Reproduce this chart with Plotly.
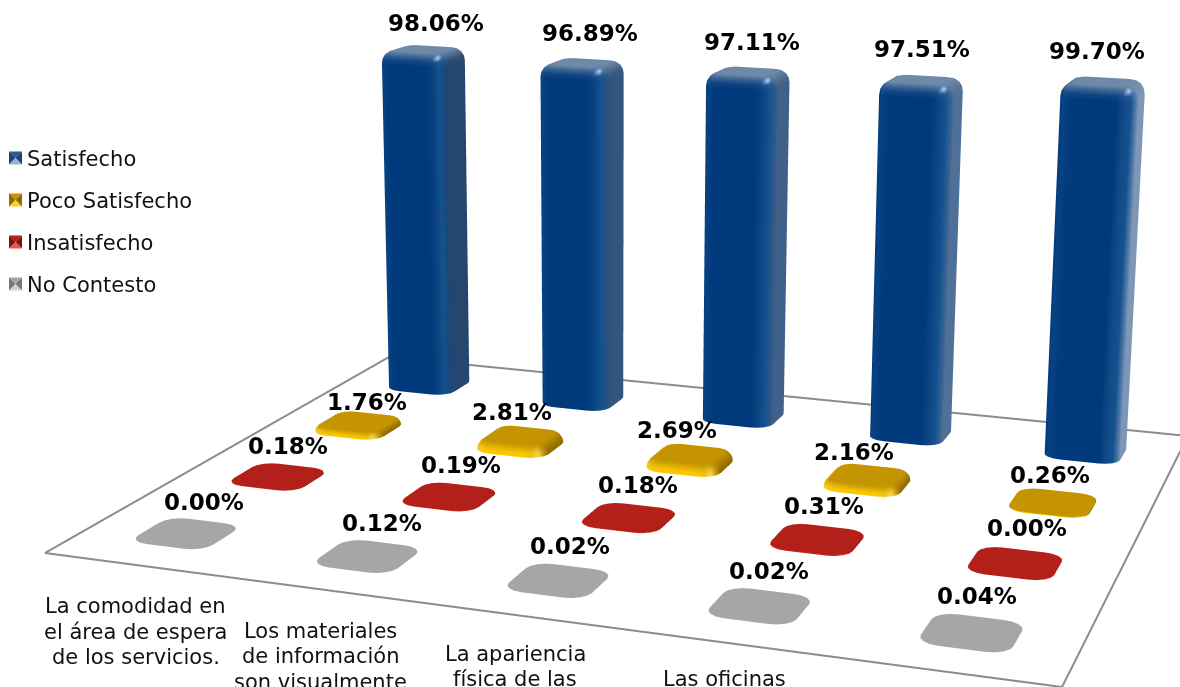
import numpy as np
import plotly.graph_objects as go

category_lines = [["La comodidad en", "el área de espera", "de los servicios."],
                  ["Los materiales", "de información", "son visualmente"],
                  ["La apariencia", "física de las"],
                  ["Las oficinas"],
                  []]
series_names = ["No Contesto", "Insatisfecho", "Poco Satisfecho", "Satisfecho"]
no_contesto = [0.00, 0.12, 0.02, 0.02, 0.04]
insatisfecho = [0.18, 0.19, 0.18, 0.31, 0.00]
poco = [1.76, 2.81, 2.69, 2.16, 0.26]
satisfecho = [98.06, 96.89, 97.11, 97.51, 99.70]
series_values = [no_contesto, insatisfecho, poco, satisfecho]

STY = {
    "No Contesto": dict(front="#a0a0a0", side="#989898", top="#a6a6a6", hi="#b0b0b0", spec=None,
                        sw=("#a6a6a6", "#777777", "#d0d0d0")),
    "Insatisfecho": dict(front="#d8261c", side="#8e1a14", top="#b3201a", hi="#e05048", spec=None,
                         sw=("#b3201a", "#7a1510", "#f05050")),
    "Poco Satisfecho": dict(front="#ffcc00", side="#8f6b00", top="#c49500", hi="#ffdb50", spec=None,
                            sw=("#c49500", "#8a6a00", "#ffcc22")),
    "Satisfecho": dict(front="#003a7d", side="#25466e", top="#6f8aa8", hi="#14528f", spec="#a8d4ff",
                       sw=("#2a5a94", "#1d4377", "#8fb2d6")),
}
BLUE_SIDE = ["#25466e", "#33567c", "#3f6088", "#4f7098", "#7e97b8"]
FIG_W = 1330
FIG_H = 3500   # tall page: sets the focal length; only the top-left 1180x687 px are in the window
FLOOR_PX = np.array([[45, 553], [1062, 687], [1188, 436], [389, 357]], float)  # calibration of the view
BAR_PX_CAL = 335.0   # projected height of the 98.06 bar, first category
BAR_W, BAR_D = 0.42, 0.42  # fraction of a cell
TAN = np.tan(np.pi / 8)
# label nudges in pixels, indexed [series][category]
LABEL_DX = [[18, 15, 12, 10, 5], [10, 12, 9, 7, 12], [9, -8, -13, -13, -3], [13, 8, 4, 0, -6]]
LABEL_DY = [[31, 33, 34, 35, 37], [30, 31, 32, 33, 35], [20, 23, 24, 23, 27], [26, 29, 29, 30, 30]]
CAT_DX = [28, 23, 17, 15]
CAT_DY = [-11, -10, -6, -3]
LEGEND_Y = [158, 200, 242, 284]


def homography():
    A, B, C, D = FLOOR_PX
    d1, d2, s = B - C, D - C, A - B + C - D
    det = d1[0] * d2[1] - d2[0] * d1[1]
    g = (s[0] * d2[1] - d2[0] * s[1]) / det
    h = (d1[0] * s[1] - s[0] * d1[1]) / det
    return np.array([[B[0] - A[0] + g * B[0], D[0] - A[0] + h * D[0], A[0]],
                     [B[1] - A[1] + g * B[1], D[1] - A[1] + h * D[1], A[1]],
                     [g, h, 1.0]])


f = FIG_H / 2 / TAN
Kinv = np.array([[1 / f, 0, -FIG_W / 2 / f], [0, 1 / f, -FIG_H / 2 / f], [0, 0, 1]])
M = Kinv @ homography()
lam = np.linalg.norm(M[:, 0])
W = 1.0
r1 = M[:, 0] / lam
a_ = M[:, 1] @ r1
h2p = M[:, 1] - a_ * r1
r2 = h2p / np.linalg.norm(h2p)
D = np.linalg.norm(h2p) / lam
SHEAR = a_ / lam          # world X per unit of floor depth
r3 = np.cross(r1, r2)
t = M[:, 2] / lam
R = np.column_stack([r1, r2, r3])
cam = -R.T @ t


def project(p):
    c = R @ p + t
    return np.array([f * c[0] / c[2] + FIG_W / 2, f * c[1] / c[2] + FIG_H / 2])


def heightpx(zw):
    base = np.array([W * 0.1 + SHEAR * 0.875, D * 0.875, 0.0])
    top = base + np.array([0, 0, zw])
    return np.linalg.norm(project(base) - project(top))


zl, zh = 0.01, 3.0
for _ in range(50):
    zm = (zl + zh) / 2
    if heightpx(zm) > BAR_PX_CAL:
        zh = zm
    else:
        zl = zm
PCT_SCALE = zl / 98.06

sx, sy, sz = W / 5, D / 4, PCT_SCALE
SK = SHEAR / (4 * sx)   # data x shift per unit of series position


def xs(cat, ser):
    return cat + SK * ser


xvals = [xs(0, 0), xs(5, 0), xs(5, 4), xs(0, 4)]
X_RANGE = [min(xvals) - 0.05, max(xvals) + 0.05]
Y_RANGE = [-0.5, 4.02]
Z_RANGE = [-1.0, 125.0]
aspect = dict(x=(X_RANGE[1] - X_RANGE[0]) * sx, y=(Y_RANGE[1] - Y_RANGE[0]) * sy, z=(Z_RANGE[1] - Z_RANGE[0]) * sz)
box_c = np.array([sum(X_RANGE) / 2 * sx, sum(Y_RANGE) / 2 * sy, sum(Z_RANGE) / 2 * sz])
eye = cam - box_c
fwd = R.T @ np.array([0, 0, 1.0])
up = -R.T @ np.array([0, 1.0, 0])
center = eye + fwd * 1.0


def hexrgb(c):
    return np.array([int(c[k:k + 2], 16) for k in (1, 3, 5)], float)


def css(v):
    v = np.clip(v, 0, 255)
    return f"rgb({int(v[0])},{int(v[1])},{int(v[2])})"


def shade(nx, ny, st, side):
    fw, rw, lw, bw = max(0, -ny), max(0, nx), max(0, -nx), max(0, ny)
    front, sd, hi_c = hexrgb(st["front"]), hexrgb(side), hexrgb(st["hi"])
    den = fw ** 2 + rw ** 2 + lw ** 2 + bw ** 2
    c = (front * (fw ** 2 + lw ** 2) + sd * (rw ** 2 + bw ** 2)) / den
    k = (2 * fw * rw) ** 4
    k2 = 0.4 * (2 * fw * lw) ** 4
    return c * (1 - max(k, k2)) + hi_c * max(k, k2)


def add_bar(m, cat, ser, val, st, side):
    h = max(val, 0.02)
    cu, cv = cat + 0.5, ser + 0.5
    hw, hd = BAR_W / 2, BAR_D / 2
    crx, cry = 0.25 * BAR_W, 0.25 * BAR_D
    bev = 3.5
    rad = 0.07
    b = min(bev, h)
    r_now = rad * b / bev
    angs = []
    for q, (ccx, ccy) in enumerate([(-1, -1), (1, -1), (1, 1), (-1, 1)]):
        for a in np.linspace(np.pi + q * np.pi / 2, np.pi * 1.5 + q * np.pi / 2, 5):
            angs.append((ccx, ccy, a))
    n = len(angs)
    profile = [(0.0, 0.0, 0.0), (h - b, 0.0, 0.0)]
    for th in np.radians([22.5, 45, 67.5, 90]):
        profile.append((h - b + b * np.sin(th), r_now * (1 - np.cos(th)), th))

    def push(px, py, pz, col):
        m["x"].append(px); m["y"].append(py); m["z"].append(pz); m["c"].append(css(col))
        return len(m["x"]) - 1

    idx = []
    for z, inset, th in profile:
        row = []
        tmix = np.sin(th) ** 2
        for ccx, ccy, a in angs:
            nx, ny = np.cos(a), np.sin(a)
            pu = cu + ccx * (hw - crx) + (crx - inset) * nx
            pv = cv + ccy * (hd - cry) + (cry - inset) * ny
            col = shade(nx, ny, st, side) * (1 - tmix) + hexrgb(st["top"]) * tmix
            if st["spec"] and abs(th - np.pi / 4) < 1e-6:
                k = (2 * max(0, -ny) * max(0, nx)) ** 30
                col = col * (1 - k) + hexrgb(st["spec"]) * k
            row.append(push(xs(pu, pv), pv, z, col))
        idx.append(row)
    for rn in range(len(profile) - 1):
        for a in range(n):
            p, q = idx[rn][a], idx[rn][(a + 1) % n]
            r, s = idx[rn + 1][a], idx[rn + 1][(a + 1) % n]
            m["i"] += [p, p]; m["j"] += [q, s]; m["k"] += [s, r]
    ctr = push(xs(cu, cv), cv, h, hexrgb(st["top"]))
    for a in range(n):
        m["i"].append(ctr); m["j"].append(idx[-1][a]); m["k"].append(idx[-1][(a + 1) % n])


fig = go.Figure()
shapes = []
for row, ser in enumerate([3, 2, 1, 0]):
    name = series_names[ser]
    st = STY[name]
    meshes = dict(x=[], y=[], z=[], i=[], j=[], k=[], c=[])
    for cat, val in enumerate(series_values[ser]):
        side = BLUE_SIDE[cat] if name == "Satisfecho" else st["side"]
        add_bar(meshes, cat, ser, val, st, side)
    fig.add_trace(go.Mesh3d(x=meshes["x"], y=meshes["y"], z=meshes["z"], i=meshes["i"], j=meshes["j"], k=meshes["k"],
                            vertexcolor=meshes["c"], name=name, showscale=False, hoverinfo="skip", flatshading=False,
                            lighting=dict(ambient=1.0, diffuse=0.0, specular=0.0, roughness=1.0, fresnel=0.0),
                            showlegend=False))
    fig.add_trace(go.Scatter3d(x=[None], y=[None], z=[None], mode="markers", name=name, legendgroup=name,
                               marker=dict(symbol="square", size=13, color="rgba(0,0,0,0)"), showlegend=True))
    # pyramid-shaded legend key
    xl, xr, ym = 9 / FIG_W, 22 / FIG_W, LEGEND_Y[row]
    yt, yb, yc, xc = 1 - (ym - 6.5) / FIG_H, 1 - (ym + 6.5) / FIG_H, 1 - ym / FIG_H, 15.5 / FIG_W
    top_c, side_c, bot_c = st["sw"]
    for col, pts in ((top_c, [(xl, yt), (xr, yt), (xc, yc)]), (side_c, [(xl, yt), (xl, yb), (xc, yc)]),
                     (side_c, [(xr, yt), (xr, yb), (xc, yc)]), (bot_c, [(xl, yb), (xr, yb), (xc, yc)])):
        path = "M" + " L".join(f"{a:.6f},{b_:.6f}" for a, b_ in pts) + " Z"
        shapes.append(dict(type="path", xref="paper", yref="paper", path=path, fillcolor=col, line=dict(width=0)))

fig.add_trace(go.Scatter3d(x=[xs(0, 0), xs(5, 0), xs(5, 4), xs(0, 4), xs(0, 0)], y=[0, 0, 4, 4, 0], z=[0] * 5, mode="lines",
                           line=dict(color="#8c8c8c", width=4), showlegend=False, hoverinfo="skip"))

annots = []
for ser, vals in enumerate(series_values):
    for cat, val in enumerate(vals):
        annots.append(dict(x=xs(cat + 0.5, ser + 0.5), y=ser + 0.5, z=val, text=f"{val:.2f}%", showarrow=False, xanchor="center",
                           yanchor="middle", xshift=LABEL_DX[ser][cat], yshift=LABEL_DY[ser][cat],
                           font=dict(family="DejaVu Sans", size=23, color="#000000", weight="bold")))
for cat, lines in enumerate(category_lines):
    for ln, text in enumerate(lines):
        annots.append(dict(x=xs(cat + 0.5, -0.25), y=-0.25, z=0, text=text, showarrow=False, xanchor="center", yanchor="top",
                           xshift=CAT_DX[cat], yshift=CAT_DY[cat] - 25.5 * ln,
                           font=dict(family="DejaVu Sans", size=21, color="#111111")))

fig.update_layout(
    width=FIG_W, height=FIG_H, margin=dict(l=0, r=0, t=0, b=0, autoexpand=False), paper_bgcolor="white", autosize=False,
    scene=dict(domain=dict(x=[0, 1], y=[0, 1]), aspectmode="manual",
               aspectratio=aspect,
               camera=dict(eye=dict(x=eye[0], y=eye[1], z=eye[2]), center=dict(x=center[0], y=center[1], z=center[2]),
                           up=dict(x=up[0], y=up[1], z=up[2]), projection=dict(type="perspective")),
               xaxis=dict(range=X_RANGE, visible=False), yaxis=dict(range=Y_RANGE, visible=False),
               zaxis=dict(range=Z_RANGE, visible=False), bgcolor="white", annotations=annots),
    legend=dict(x=-13 / FIG_W, xanchor="left", y=1 - 138 / FIG_H, yanchor="top", tracegroupgap=11.5,
                font=dict(family="DejaVu Sans", size=21, color="#111111"), bgcolor="rgba(0,0,0,0)"),
    shapes=shapes,
)
fig.write_html("out.html", config=dict(displayModeBar=False),
               post_script="document.body.style.margin='0';document.documentElement.style.overflow='hidden';document.body.style.overflow='hidden';")
